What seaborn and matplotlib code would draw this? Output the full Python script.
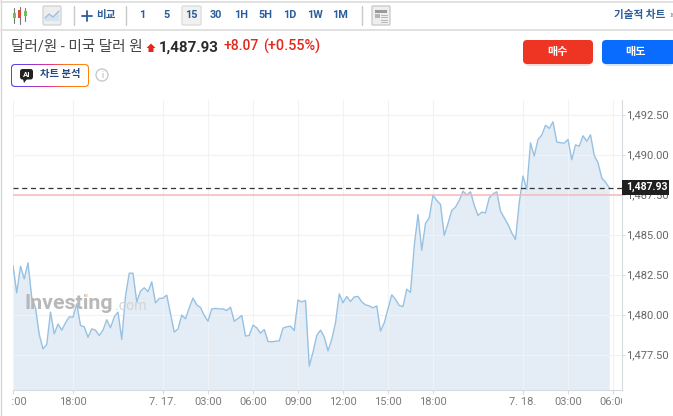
import numpy as np
import pandas as pd
import matplotlib
matplotlib.use("Agg")
import matplotlib.pyplot as plt
import seaborn as sns
from matplotlib.patches import FancyBboxPatch, Rectangle, Circle, Polygon
from matplotlib.transforms import Bbox

# USD/KRW 15 minute closes
prices = [
    1483.06, 1481.35, 1483.02, 1482.23, 1483.23, 1481.04, 1480.42, 1478.75, 1477.85, 1478.13,
    1480.15, 1478.79, 1479.40, 1479.02, 1479.48, 1479.85, 1479.83, 1480.67, 1479.31, 1479.23,
    1478.58, 1479.10, 1479.02, 1478.69, 1479.02, 1479.67, 1479.17, 1479.85, 1480.15, 1478.44,
    1481.15, 1482.58, 1482.58, 1480.79, 1481.46, 1481.67, 1481.42, 1482.04, 1480.73, 1481.00,
    1481.02, 1481.21, 1480.06, 1478.90, 1479.10, 1479.96, 1479.73, 1480.42, 1481.02, 1480.60,
    1480.44, 1479.94, 1479.58, 1480.35, 1480.38, 1480.35,
    1480.35, 1480.25, 1480.46, 1479.58, 1479.75, 1479.94, 1478.65, 1478.69, 1479.33, 1479.17,
    1478.83, 1479.06, 1478.31, 1478.29, 1478.33, 1478.35, 1479.15, 1479.23, 1479.27, 1479.00,
    1480.90, 1480.79, 1480.88, 1476.77, 1477.65, 1478.69, 1479.02, 1478.60, 1477.73, 1478.44,
    1479.48, 1481.29, 1480.73, 1481.13, 1480.81, 1481.10, 1481.13, 1480.79, 1480.60, 1480.54,
    1480.42, 1480.54, 1478.96, 1479.48, 1480.35, 1481.23, 1480.94, 1480.56, 1480.50, 1481.58,
    1481.38,
    1484.27, 1486.25, 1484.02, 1485.69, 1486.04, 1487.46, 1487.13, 1486.88, 1484.94, 1485.69,
    1486.50, 1486.71, 1487.13, 1487.71, 1487.46, 1487.67, 1486.83, 1486.19, 1486.40, 1486.35,
    1487.29, 1487.54, 1487.67, 1486.46, 1486.04, 1485.63, 1485.10, 1484.69, 1486.98, 1488.65,
    1487.81, 1490.73, 1489.90, 1490.94, 1491.21, 1491.83, 1491.63, 1492.04, 1490.79, 1490.73,
    1490.71, 1490.94, 1489.67, 1490.60, 1490.52, 1491.17, 1490.83, 1491.23, 1489.94, 1489.48,
    1488.54, 1488.27, 1487.93,
]
start_time = "2026-07-16 14:00"
x_ticks = ["2026-07-16 14:00", "2026-07-16 18:00", "2026-07-17 00:00", "2026-07-17 03:00",
           "2026-07-17 06:00", "2026-07-17 09:00", "2026-07-17 12:00", "2026-07-17 15:00",
           "2026-07-17 18:00", "2026-07-18 00:00", "2026-07-18 03:00", "2026-07-18 06:00"]
x_labels = ["14:00", "18:00", "7. 17.", "03:00", "06:00", "09:00", "12:00", "15:00",
            "18:00", "7. 18.", "03:00", "06:00"]
y_ticks = [1477.5, 1480, 1482.5, 1485, 1487.5, 1490, 1492.5]
last_price = 1487.93
red_level = 1487.45
periods = ["1", "5", "15", "30", "1H", "5H", "1D", "1W", "1M"]
period_x = [142, 167, 191.5, 216, 241, 265, 290, 315, 340]

W, H = 673, 416
sns.set_theme(style="white")
font = ["Roboto", "Noto Sans CJK KR", "DejaVu Sans"]
plt.rcParams["font.family"] = font

fig = plt.figure(figsize=(W / 100, H / 100), dpi=100)
L, R, T, B = 13, 621.5, 100, 389.5
ax = fig.add_axes([L / W, 1 - B / H, (R - L) / W, (B - T) / H])

df = pd.DataFrame({"time": pd.date_range(start_time, periods=len(prices), freq="15min"), "price": prices})
ax.fill_between(df["time"], prices, 1470, color="#e4edf5", lw=0, zorder=1)
sns.lineplot(data=df, x="time", y="price", ax=ax, color="#97c1e2", lw=1.0, zorder=3)

t0 = pd.Timestamp(start_time)
ax.set_xlim(t0, t0 + pd.Timedelta(minutes=15) * ((R - L) / 3.75))
ax.set_ylim(1480 + (314.5 - B) / 16, 1480 + (314.5 - T) / 16)
ax.set_xlabel("")
ax.set_ylabel("")

ax.set_xticks(pd.to_datetime(x_ticks))
ax.set_xticklabels(x_labels)
ax.set_yticks(y_ticks)
ax.set_yticklabels([f"{v:,.2f}" for v in y_ticks])
ax.yaxis.tick_right()
ax.grid(True, color="#f0f3f6", lw=0.8, zorder=2)
ax.set_axisbelow(False)
for g in ax.get_xgridlines() + ax.get_ygridlines():
    g.set_zorder(2)
ax.tick_params(axis="x", length=3, width=0.8, color="#d6dbe0", pad=2.5, labelsize=8, labelcolor="#7c7c7c", bottom=True)
ax.tick_params(axis="y", length=2, width=0.8, color="#d6dbe0", pad=1, labelsize=8, labelcolor="#666666", right=True, left=False)
for s in ["top", "left"]:
    ax.spines[s].set_visible(False)
for s in ["right", "bottom"]:
    ax.spines[s].set_color("#d6dbe0")
    ax.spines[s].set_linewidth(0.8)

# the axis labels get cut at both plot edges
clip = Bbox([[L - 1, 0], [R, H]])
for lab in ax.get_xticklabels():
    lab.set_clip_on(True)
    lab.set_clip_box(clip)
for lab in ax.get_yticklabels():
    lab.set_verticalalignment("center_baseline")

ax.axhline(red_level, color="#f5b9bb", lw=1.1, zorder=4)
ax.axhline(last_price, color="#333333", lw=0.9, dashes=(4, 3), zorder=5)

# overlay in pixel coordinates for the page around the chart
ui = fig.add_axes([0, 0, 1, 1], facecolor="none")
ui.set_axis_off()


def txt(x, y, s, size=8, color="#333333", weight="normal", ha="left", **kw):
    ui.text(x, y, s, fontsize=size, color=color, fontweight=weight, ha=ha, va="center", **kw)


def box(x0, y0, x1, y1, fc, ec="none", r=2, lw=1, z=3, alpha=1):
    ui.add_patch(FancyBboxPatch((x0 + r, y0 + r), x1 - x0 - 2 * r, y1 - y0 - 2 * r,
                                boxstyle=f"round,pad={r},rounding_size={r}",
                                fc=fc, ec=ec, lw=lw, zorder=z, alpha=alpha))


# toolbar
blue = "#2a5d9c"
ui.plot([1.3, 1.3], [0, H], color="#d8d8d8", lw=1)
ui.plot([1, W], [1.5, 1.5], color="#dcdcdc", lw=1.2)
ui.plot([1, W], [29.5, 29.5], color="#dcdcdc", lw=1.2)
for sx in [73.5, 125.5, 361.5]:
    ui.plot([sx, sx], [6, 25], color="#c9c9c9", lw=1)

# candle icon
for cx, y0, y1, c0, c1, col in [(14, 8, 23, 13, 18, "#6fbf5a"), (19.5, 7, 24, 10, 18, "#e0483c"), (25, 8, 21, 11, 16, "#6fbf5a")]:
    ui.plot([cx, cx], [y0, y1], color="#777777", lw=0.8, zorder=3)
    ui.add_patch(Rectangle((cx - 1.5, c0), 3, c1 - c0, fc=col, ec="none", zorder=4))
# area icon
box(43, 6, 61, 25, "#eeeeee", ec="#d5d5d5", r=1.5)
ui.add_patch(Polygon([(45, 21), (45, 18), (49, 14), (53, 17), (59, 11), (59, 21)], fc="#d5e2f0", ec="none", zorder=4))
ui.plot([45, 49, 53, 59], [18, 14, 17, 11], color="#9dbbdc", lw=0.9, zorder=5)

ui.plot([82, 92], [15.5, 15.5], color=blue, lw=1.3)
ui.plot([87, 87], [10.5, 20.5], color=blue, lw=1.3)
txt(96, 15, "비교", 7.6, blue, "bold")
box(182, 6, 201, 25, "#f1f1f1", ec="#dddddd", r=1.5)
for p, px in zip(periods, period_x):
    txt(px, 15.5, p, 7.8, blue, "bold", ha="center", zorder=5)
# calendar icon
box(372, 6, 390, 25, "#eeeeee", ec="#cccccc", r=1)
ui.add_patch(Rectangle((375, 9.5), 12, 3, fc="#9a9a9a", ec="none", zorder=4))
ui.add_patch(Rectangle((375, 14), 5, 4, fc="#b5b5b5", ec="none", zorder=4))
for ly in [14.5, 17, 19.5, 22]:
    ui.plot([381, 387], [ly, ly], color="#b5b5b5", lw=0.7, zorder=4)
txt(614, 15, "기술적 차트", 7.6, blue, "bold")
txt(669, 15, "»", 7.6, "#666666")

# quote header
txt(11, 46.5, "달러/원 - 미국 달러 원", 10.5, "#444444")
ui.add_patch(Polygon([(151, 43.5), (155.5, 48), (153.5, 48), (153.5, 52), (148.5, 52), (148.5, 48), (146.5, 48)], fc="#e5271c", ec="none"))
txt(159, 48, "1,487.93", 10.9, "#2b2b2b", "bold")
txt(223, 46.5, "+8.07", 10, "#e5271c", "medium")
txt(263, 46.5, "(+0.55%)", 10.4, "#e5271c", "medium")

# buy and sell
box(525, 43, 591, 66, "#f7b5ae", r=4, z=2, alpha=0.5)
box(604, 43, 673, 66, "#a8ccff", r=4, z=2, alpha=0.5)
box(523, 40, 593, 64, "#ee3524", r=4)
box(602, 40, 676, 64, "#0a6cff", r=4)
txt(557, 52, "매수", 8, "white", "bold", ha="center", zorder=5)
txt(636, 52, "매도", 8, "white", "bold", ha="center", zorder=5)

# AI badge, the border runs from purple over pink to orange
grad = np.array([[[0.36, 0.27, 0.93], [0.62, 0.22, 0.80], [0.90, 0.20, 0.55], [1.0, 0.45, 0.10], [1.0, 0.52, 0.05]]])
im = ui.imshow(grad, extent=(11, 89, 87, 64), aspect="auto", interpolation="bilinear", zorder=2)
clip_box = FancyBboxPatch((14, 67), 72, 17, boxstyle="round,pad=3,rounding_size=4", fc="none", ec="none", transform=ui.transData)
ui.add_patch(clip_box)
im.set_clip_path(clip_box)
box(12, 65, 88, 86, "white", r=3.5, z=3)
box(20, 69, 33, 79.5, "#222222", r=2.5, z=4)
ui.add_patch(Polygon([(23, 79), (27, 79), (24, 83)], fc="#222222", ec="none", zorder=4))
txt(26.5, 74.5, "AI", 5.6, "white", "bold", ha="center", zorder=5)
txt(40, 74.5, "차트 분석", 7.4, "#24487f", "bold", zorder=5)
ui.add_patch(Circle((102, 75), 6, fc="white", ec="#c4c4c4", lw=0.9))
txt(102, 75, "i", 6.5, "#b0b0b0", ha="center")

# watermark
txt(24.5, 303.5, "Investing", 15.4, "#b4b4b4", "bold", zorder=6, alpha=0.95)
txt(114.5, 305.5, ".com", 10.2, "#d4d4d4", zorder=6)
ui.add_patch(Circle((86.5, 295.5), 1.6, fc="#f8dcae", ec="none", zorder=7))

# last price flag
ui.add_patch(Rectangle((621.5, 179.5), 47.5, 15, fc="#1f1f1f", ec="none", zorder=6))
txt(626, 187, "1,487.93", 7.6, "white", "bold", zorder=7)

ui.set_xlim(0, W)
ui.set_ylim(H, 0)

fig.savefig("out.png", dpi=100)
